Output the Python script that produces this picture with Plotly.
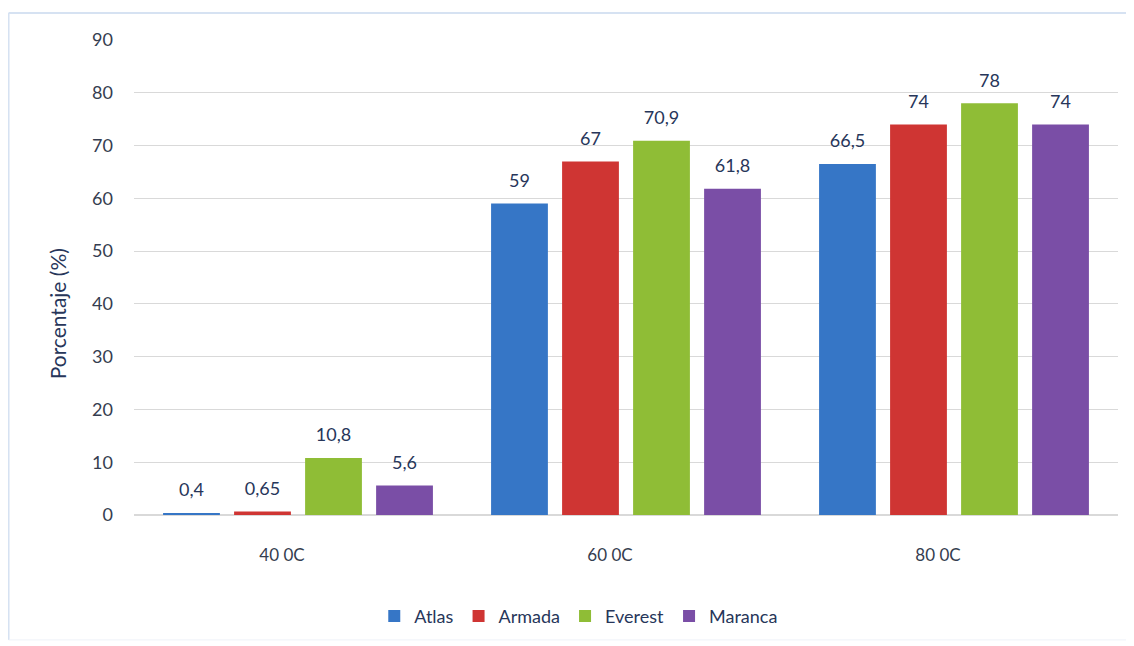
import plotly.graph_objects as go

categories = ["40 0C", "60 0C", "80 0C"]
series_names = ["Atlas", "Armada", "Everest", "Maranca"]
atlas = [0.4, 59, 66.5]
armada = [0.65, 67, 74]
everest = [10.8, 70.9, 78]
maranca = [5.6, 61.8, 74]
labels = {
    "Atlas": ["0,4", "59", "66,5"],
    "Armada": ["0,65", "67", "74"],
    "Everest": ["10,8", "70,9", "78"],
    "Maranca": ["5,6", "61,8", "74"],
}
colors = {"Atlas": "#3676c6", "Armada": "#cf3533", "Everest": "#8fbd36", "Maranca": "#7a4ea6"}
values = {"Atlas": atlas, "Armada": armada, "Everest": everest, "Maranca": maranca}
y_title = "Porcentaje (%)"

text_color = "#27365a"
tick_color = "#353d4f"
font_family = "Lato, 'Open Sans', sans-serif"
GAP = 0.134

fig = go.Figure()
for name in series_names:
    fig.add_trace(go.Bar(
        x=categories, y=values[name], name=name,
        marker=dict(color=colors[name], line=dict(width=0)),
        offsetgroup=name,
    ))
for name in series_names:
    fig.add_trace(go.Scatter(
        x=categories, y=values[name], mode="markers+text", showlegend=False,
        marker=dict(size=18, opacity=0), text=labels[name], textposition="top center",
        offsetgroup=name, hoverinfo="skip", cliponaxis=False,
        textfont=dict(size=18, color=text_color, family=font_family),
    ))

fig.update_layout(
    width=1134, height=646,
    paper_bgcolor="white", plot_bgcolor="white",
    margin=dict(l=126, r=24, t=32, b=139),
    barmode="group", bargap=GAP, bargroupgap=0.2,
    scattermode="group", scattergap=GAP,
    font=dict(family=font_family, size=17, color=text_color),
    showlegend=True,
    legend=dict(orientation="h", x=0.452, xanchor="center", y=-0.213, yanchor="middle",
                font=dict(size=18, color=text_color), itemwidth=30, traceorder="normal"),
    xaxis=dict(showgrid=False, showline=False, ticks="", tickfont=dict(size=17, color=tick_color),
               ticklabelshift=-16, ticklabelstandoff=28),
    yaxis=dict(range=[0, 90], dtick=10, showgrid=True, gridcolor="#d9d9d9", gridwidth=1,
               zeroline=True, zerolinecolor="#d9d9d9", zerolinewidth=1.5,
               tickfont=dict(size=18, color=tick_color), ticklabelstandoff=20),
    annotations=[dict(text=y_title, textangle=-90, xref="paper", yref="paper",
                      x=-0.078, y=0.423, xanchor="center", yanchor="middle", showarrow=False,
                      font=dict(size=21, color=text_color, family=font_family))],
)

border = "#d6e2f2"
fig.add_shape(type="line", xref="paper", yref="paper", x0=-0.1275, x1=1.03, y0=1.057, y1=1.057,
              line=dict(color=border, width=2), layer="below")
fig.add_shape(type="line", xref="paper", yref="paper", x0=-0.1275, x1=-0.1275, y0=-0.263, y1=1.057,
              line=dict(color=border, width=2), layer="below")
fig.add_shape(type="line", xref="paper", yref="paper", x0=-0.1275, x1=1.03, y0=-0.263, y1=-0.263,
              line=dict(color="#eef2f8", width=1), layer="below")

fig.write_html("out.html")
